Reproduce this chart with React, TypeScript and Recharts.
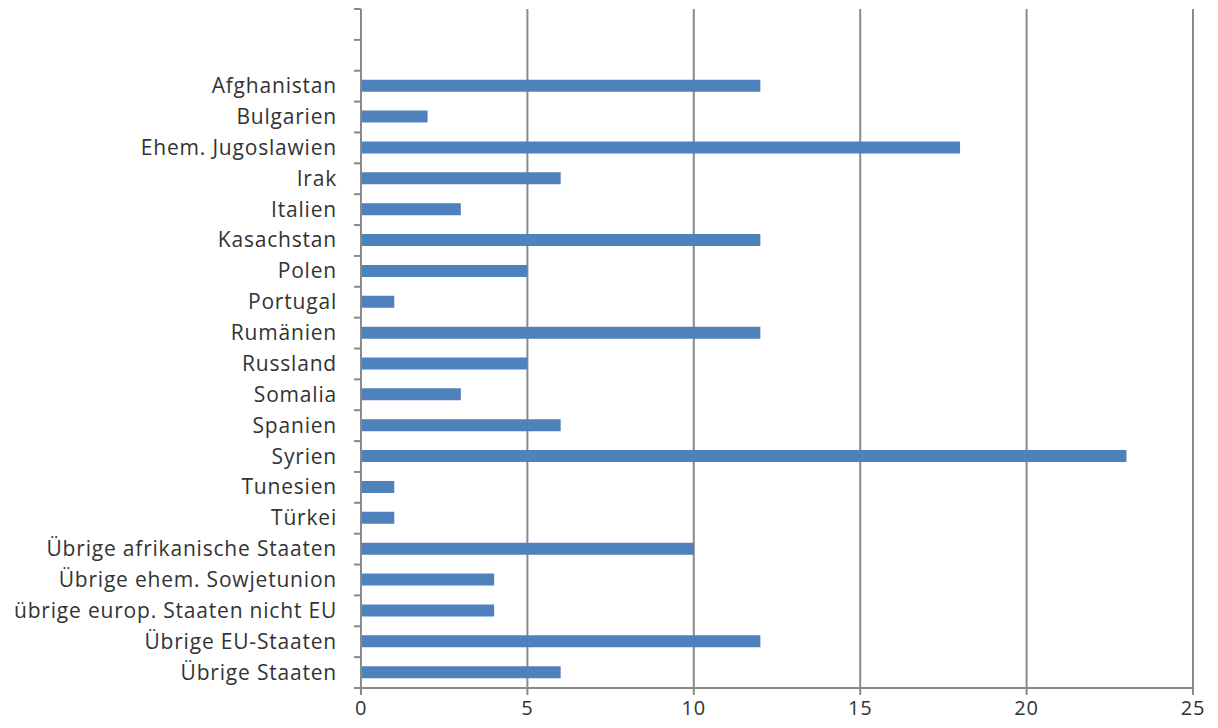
import * as React from "react";
import { BarChart, Bar, XAxis, YAxis, CartesianGrid } from "recharts";

const countries = [
  "Afghanistan",
  "Bulgarien",
  "Ehem. Jugoslawien",
  "Irak",
  "Italien",
  "Kasachstan",
  "Polen",
  "Portugal",
  "Rumänien",
  "Russland",
  "Somalia",
  "Spanien",
  "Syrien",
  "Tunesien",
  "Türkei",
  "Übrige afrikanische Staaten",
  "Übrige ehem. Sowjetunion",
  "übrige europ. Staaten nicht EU",
  "Übrige EU-Staaten",
  "Übrige Staaten",
];

const counts = [12, 2, 18, 6, 3, 12, 5, 1, 12, 5, 3, 6, 23, 1, 1, 10, 4, 4, 12, 6];

const xTicks = [0, 5, 10, 15, 20, 25];

// the original has two empty rows above the first country
const emptyRows = 2;

const rows = [
  ...Array.from({ length: emptyRows }, (_, i) => ({ id: "blank" + i, label: "", value: null })),
  ...countries.map((c, i) => ({ id: c, label: c, value: counts[i] })),
];

const TOP = 9;
const XAXIS_H = 40;
const HEIGHT = 728;
const AXIS_X = 361;
const band = (HEIGHT - TOP - XAXIS_H) / rows.length;

const grey = "#8a8a8a";

function CategoryTick(props: any) {
  const { y, index } = props;
  const row = rows[index];
  return (
    <g>
      <line x1={AXIS_X - 7} x2={AXIS_X} y1={y - band / 2} y2={y - band / 2} stroke={grey} strokeWidth={2} />
      {index === rows.length - 1 && (
        <line x1={AXIS_X - 7} x2={AXIS_X} y1={y + band / 2} y2={y + band / 2} stroke={grey} strokeWidth={2} />
      )}
      <text
        x={337}
        y={y}
        dy={7}
        textAnchor="end"
        fill="#333"
        fontSize={21}
        letterSpacing={0.8}
        fontFamily="Open Sans"
      >
        {row ? row.label : ""}
      </text>
    </g>
  );
}

export default function App() {
  return (
    <div style={{ position: "absolute", left: 0, top: 0, background: "#fff" }}>
      <BarChart
        width={1218}
        height={HEIGHT}
        data={rows}
        layout="vertical"
        barSize={12}
        margin={{ top: TOP, right: 25, bottom: 0, left: 0 }}
      >
        <CartesianGrid horizontal={false} vertical stroke={grey} strokeWidth={2} />
        <XAxis
          type="number"
          domain={[0, 25]}
          ticks={xTicks}
          axisLine={{ stroke: grey, strokeWidth: 2 }}
          tickLine={{ stroke: grey, strokeWidth: 2 }}
          tickSize={7}
          tick={{ fill: "#333", fontSize: 20, fontFamily: "Open Sans", letterSpacing: 0.8, dy: 4 }}
          height={XAXIS_H}
        />
        <YAxis
          type="category"
          dataKey="id"
          width={AXIS_X}
          axisLine={{ stroke: grey, strokeWidth: 2 }}
          tickLine={false}
          tickMargin={0}
          interval={0}
          tick={<CategoryTick />}
        />
        <Bar dataKey="value" fill="#4f81bd" isAnimationActive={false} />
      </BarChart>
    </div>
  );
}
